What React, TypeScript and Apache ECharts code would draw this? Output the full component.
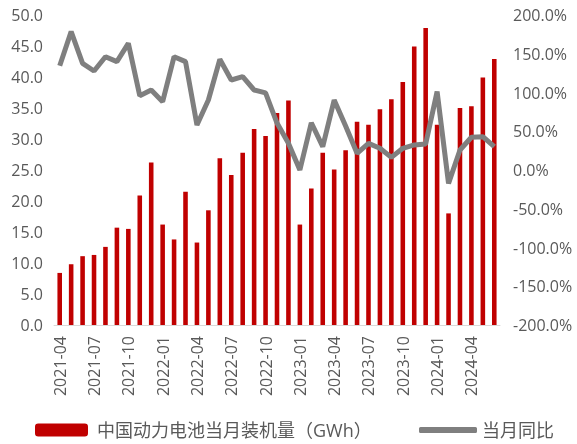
import React, { useEffect, useRef } from "react";
import * as echarts from "echarts";

const months: string[] = [
  "2021-04","2021-05","2021-06","2021-07","2021-08","2021-09","2021-10","2021-11","2021-12",
  "2022-01","2022-02","2022-03","2022-04","2022-05","2022-06","2022-07","2022-08","2022-09",
  "2022-10","2022-11","2022-12","2023-01","2023-02","2023-03","2023-04","2023-05","2023-06",
  "2023-07","2023-08","2023-09","2023-10","2023-11","2023-12","2024-01","2024-02","2024-03",
  "2024-04","2024-05","2024-06",
];

const installed: number[] = [
  8.4, 9.8, 11.1, 11.3, 12.6, 15.7, 15.5, 20.9, 26.2,
  16.2, 13.8, 21.5, 13.3, 18.5, 26.9, 24.2, 27.8, 31.6,
  30.5, 34.2, 36.2, 16.2, 22.0, 27.8, 25.1, 28.2, 32.8,
  32.3, 34.8, 36.4, 39.2, 44.9, 47.9, 32.3, 18.0, 35.0,
  35.3, 39.9, 42.9,
];

const yoy: number[] = [
  134.6, 178.5, 137.6, 127.7, 146.2, 139.8, 163.4, 95.9, 103.2,
  88.2, 146.2, 139.8, 58.1, 90.3, 142.8, 116.1, 120.4, 103.2,
  99.5, 60.6, 34.4, 0.0, 61.0, 30.1, 90.3, 56.8, 21.5,
  34.4, 28.0, 16.3, 28.0, 32.3, 33.5, 101.1, -17.2, 25.8,
  42.2, 43.0, 30.1,
];

const barName = "中国动力电池当月装机量（GWh）";
const lineName = "当月同比";

const FONT = "'Open Sans', 'Noto Sans CJK SC', sans-serif";
const TXT = "#595959";

export default function App() {
  const ref = useRef<HTMLDivElement>(null);
  useEffect(() => {
    if (!ref.current) return;
    const chart = echarts.init(ref.current, undefined, { renderer: "svg" });
    chart.setOption({
      animation: false,
      textStyle: { fontFamily: FONT },
      grid: { left: 54, right: 77, top: 15, bottom: 119 },
      legend: [
        {
          data: [barName],
          left: 35,
          top: 421,
          padding: 0,
          itemWidth: 53,
          itemHeight: 13,
          textStyle: { fontSize: 18, color: TXT, fontFamily: FONT, padding: [0, 0, 0, 4] },
        },
        {
          data: [{ name: lineName, icon: "roundRect" }],
          left: 419,
          top: 421,
          padding: 0,
          itemWidth: 58,
          itemHeight: 6,
          textStyle: { fontSize: 18, color: TXT, fontFamily: FONT },
        },
      ],
      xAxis: {
        type: "category",
        data: months,
        axisLine: { lineStyle: { color: "#d9d9d9" } },
        axisTick: { interval: 2, alignWithLabel: false, lineStyle: { color: "#d9d9d9" }, length: 5 },
        axisLabel: {
          interval: 2,
          rotate: 90,
          color: TXT,
          fontSize: 16,
          margin: 11,
          fontFamily: FONT,
        },
      },
      yAxis: [
        {
          type: "value",
          min: 0,
          max: 50,
          interval: 5,
          splitLine: { show: false },
          axisLine: { show: false },
          axisTick: { show: false },
          axisLabel: {
            color: TXT,
            fontSize: 16,
            margin: 11,
            fontFamily: FONT,
            formatter: (v: number) => v.toFixed(1),
          },
        },
        {
          type: "value",
          min: -200,
          max: 200,
          interval: 50,
          splitLine: { show: false },
          axisLine: { show: false },
          axisTick: { show: false },
          axisLabel: {
            color: TXT,
            fontSize: 16,
            margin: 13,
            fontFamily: FONT,
            formatter: (v: number) => v.toFixed(1) + "%",
          },
        },
      ],
      series: [
        {
          name: barName,
          type: "bar",
          data: installed,
          barWidth: "40%",
          itemStyle: { color: "#C00000" },
        },
        {
          name: lineName,
          type: "line",
          yAxisIndex: 1,
          data: yoy,
          symbol: "none",
          lineStyle: { color: "#7f7f7f", width: 5 },
          itemStyle: { color: "#7f7f7f" },
        },
      ],
    });
    return () => chart.dispose();
  }, []);
  return (
    <div
      ref={ref}
      style={{ position: "fixed", left: 0, top: 0, width: 577, height: 444 }}
    />
  );
}
